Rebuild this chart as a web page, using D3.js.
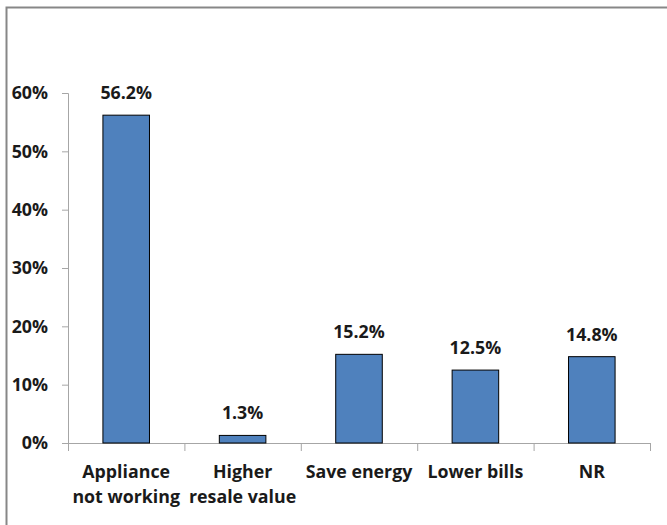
<!DOCTYPE html>
<html>
<head>
<meta charset="utf-8">
<script src="https://cdn.jsdelivr.net/npm/d3@7"></script>
<style>
  html, body { margin: 0; padding: 0; background: #fff; }
  svg { display: block; }
  text { font-family: "Open Sans", Lato, "Liberation Sans", sans-serif; font-weight: bold; fill: #1a1a1a; }
</style>
</head>
<body>
<div id="chart"></div>
<script>
// Reasons given, share of respondents
const categories = [["Appliance", "not working"], ["Higher", "resale value"], ["Save energy"], ["Lower bills"], ["NR"]];
const values = [56.2, 1.3, 15.2, 12.5, 14.8];
const yTicks = [0, 10, 20, 30, 40, 50, 60];

const W = 667, H = 525;
const margin = { left: 68, right: 17, top: 93, bottom: 82 };
const fontSize = 17.8;

const svg = d3.select("#chart").append("svg")
  .attr("width", W).attr("height", H);

// outer frame (left and top edges)
svg.append("path")
  .attr("d", `M6.5,${H} V7.5 H${W}`)
  .attr("fill", "none").attr("stroke", "#878787").attr("stroke-width", 2);

const x = d3.scaleBand()
  .domain(d3.range(categories.length))
  .range([margin.left, W - margin.right])
  .paddingInner(0.6).paddingOuter(0.3);

const y = d3.scaleLinear()
  .domain([0, 60])
  .range([H - margin.bottom, margin.top]);

const axisColor = "#a6a6a6";

// y axis
const yAxis = svg.append("g")
  .attr("transform", `translate(${margin.left},0)`)
  .call(d3.axisLeft(y).tickValues(yTicks).tickFormat(d => d + "%").tickSize(6).tickPadding(14));
yAxis.select(".domain").attr("stroke", axisColor);
yAxis.selectAll(".tick line").attr("stroke", axisColor);
yAxis.selectAll(".tick text").attr("font-size", fontSize).style("font-family", null);

// x axis with ticks at band boundaries
const x0 = margin.left, x1 = W - margin.right;
const step = (x1 - x0) / categories.length;
const xg = svg.append("g");
xg.append("line")
  .attr("x1", x0).attr("x2", x1)
  .attr("y1", y(0) + 0.5).attr("y2", y(0) + 0.5)
  .attr("stroke", axisColor);
xg.selectAll("line.tk")
  .data(d3.range(categories.length + 1))
  .join("line").attr("class", "tk")
  .attr("x1", i => x0 + i * step + 0.5).attr("x2", i => x0 + i * step + 0.5)
  .attr("y1", y(0)).attr("y2", y(0) + 8)
  .attr("stroke", axisColor);

// bars
svg.selectAll("rect.bar")
  .data(values)
  .join("rect").attr("class", "bar")
  .attr("x", (d, i) => x(i))
  .attr("width", x.bandwidth())
  .attr("y", d => y(d))
  .attr("height", d => y(0) - y(d))
  .attr("fill", "#4f81bd")
  .attr("stroke", "#000")
  .attr("stroke-width", 1);

// value labels
svg.selectAll("text.val")
  .data(values)
  .join("text").attr("class", "val")
  .attr("x", (d, i) => x(i) + x.bandwidth() / 2)
  .attr("y", d => y(d) - 16)
  .attr("text-anchor", "middle")
  .attr("font-size", fontSize)
  .text(d => d.toFixed(1) + "%");

// category labels
const cat = svg.selectAll("text.cat")
  .data(categories)
  .join("text").attr("class", "cat")
  .attr("text-anchor", "middle")
  .attr("font-size", fontSize);
cat.each(function (lines, i) {
  const t = d3.select(this);
  lines.forEach((ln, j) => {
    t.append("tspan")
      .attr("x", x(i) + x.bandwidth() / 2)
      .attr("y", y(0) + 35 + j * 25)
      .text(ln);
  });
});
</script>
</body>
</html>
